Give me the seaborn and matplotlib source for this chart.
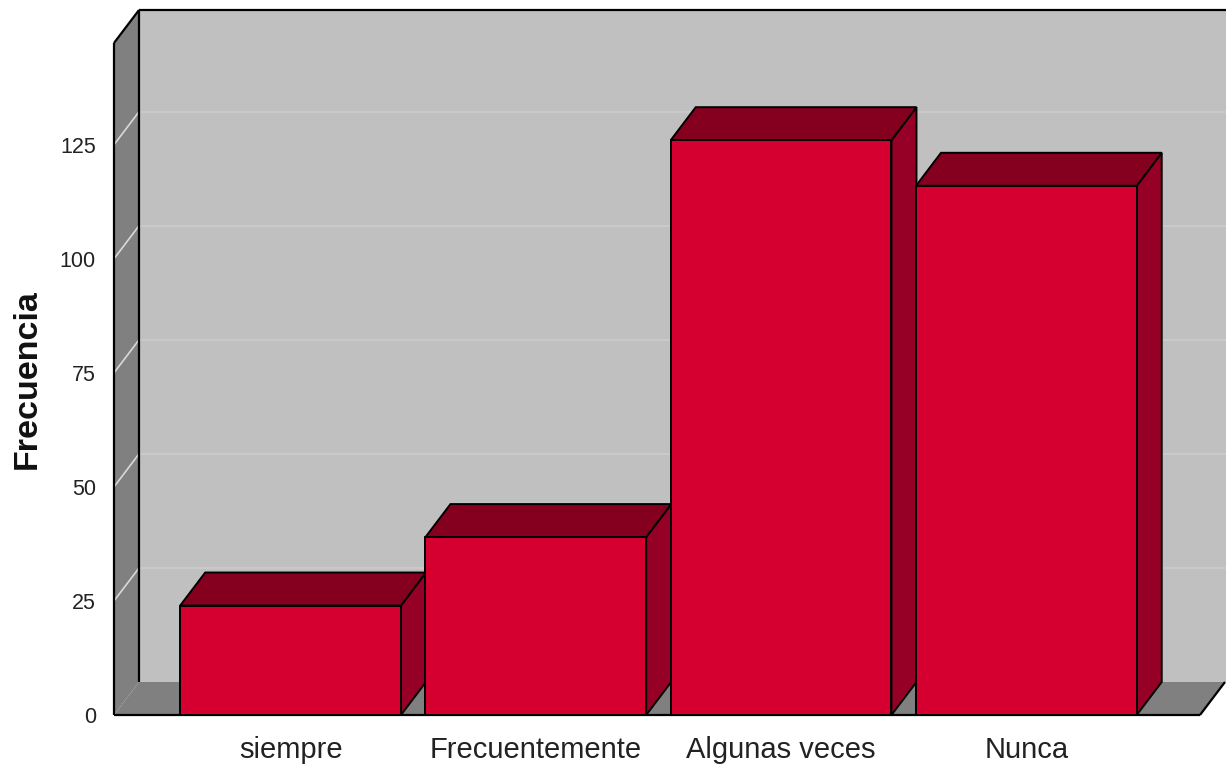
import matplotlib
matplotlib.use("Agg")
import matplotlib.pyplot as plt
from matplotlib.patches import Polygon
from matplotlib.lines import Line2D
from matplotlib.transforms import IdentityTransform
import seaborn as sns

# Data
categorias = ["siempre", "Frecuentemente", "Algunas veces", "Nunca"]
frecuencia = [24, 39, 126, 116]
marcas_y = [0, 25, 50, 75, 100, 125]

# Colours of the 3-D box and bars
ROJO_FRENTE = "#d50030"
ROJO_ARRIBA = "#85001f"
ROJO_LADO = "#960026"
GRIS_PARED = "#c0c0c0"
GRIS_OSCURO = "#808080"
GRIS_REJILLA = "#c9c9c9"
GRIS_DIAGONAL = "#d9d9d9"

sns.set_style("white")
plt.rcParams["font.family"] = ["Liberation Sans", "DejaVu Sans"]

W_PX, H_PX = 1226, 769
fig = plt.figure(figsize=(W_PX / 100, H_PX / 100), dpi=100)
ax = fig.add_axes([114 / W_PX, 54 / H_PX, 1086 / W_PX, 672 / H_PX])
ax.set_facecolor("none")

sns.barplot(x=categorias, y=frecuencia, color=ROJO_FRENTE, saturation=1,
            width=0.9, edgecolor="black", linewidth=1.4, ax=ax)

ax.set_xlim(-0.72, 3.708)
ax.set_ylim(0, 147.3)
ax.set_yticks(marcas_y)
ax.set_yticklabels([str(v) for v in marcas_y])
for s in ax.spines.values():
    s.set_visible(False)
ax.tick_params(axis="y", length=0, pad=13, labelsize=15.5, labelcolor="#222222")
ax.tick_params(axis="x", length=0, pad=15, labelsize=21, labelcolor="#222222")
ax.set_xlabel("")
ax.set_ylabel("Frecuencia", fontsize=24.5, fontweight="bold", color="#111111")
ax.yaxis.set_label_coords(-0.066, 0.5)

# Depth of the 3-D box, in pixels
DX, DY = 25, 33
T = ax.transData
ident = IdentityTransform()


def px(x, y):
    return tuple(T.transform((x, y)))


x_lo, x_hi = ax.get_xlim()
y_top = ax.get_ylim()[1]
X0, Y0 = px(x_lo, 0)
X1, _ = px(x_hi, 0)
_, YT = px(x_lo, y_top)
XR = W_PX + 20


def poly(pts, fc, z, ec="none", lw=0):
    ax.add_patch(Polygon(pts, closed=True, facecolor=fc, edgecolor=ec,
                         linewidth=lw, transform=ident, clip_on=False,
                         zorder=z, joinstyle="miter"))


def line(xs, ys, c, lw, z):
    ax.add_line(Line2D(xs, ys, color=c, linewidth=lw, transform=ident,
                       clip_on=False, zorder=z, solid_capstyle="butt"))


# Walls and floor
poly([(X0 + DX, Y0 + DY), (XR, Y0 + DY), (XR, YT + DY), (X0 + DX, YT + DY)], GRIS_PARED, 0.1)
poly([(X0, Y0), (X0, YT), (X0 + DX, YT + DY), (X0 + DX, Y0 + DY)], GRIS_OSCURO, 0.2)
poly([(X0, Y0), (X1, Y0), (X1 + DX, Y0 + DY), (X0 + DX, Y0 + DY)], GRIS_OSCURO, 0.2)

# Gridlines: diagonal across the side wall, then along the back wall
for v in marcas_y[1:]:
    _, yv = px(x_lo, v)
    line([X0, X0 + DX], [yv, yv + DY], GRIS_DIAGONAL, 1.2, 0.3)
    line([X0 + DX, XR], [yv + DY, yv + DY], GRIS_REJILLA, 1.6, 0.3)

# Box outline
line([X0, X0], [Y0, YT], "black", 1.6, 0.5)
line([X0, X0 + DX], [YT, YT + DY], "black", 1.6, 0.5)
line([X0 + DX, XR], [YT + DY, YT + DY], "black", 1.6, 0.5)
line([X0 + DX, X0 + DX], [Y0 + DY, YT + DY], "black", 1.6, 0.5)
line([X0, X1], [Y0, Y0], "black", 1.6, 0.5)
line([X1, X1 + DX], [Y0, Y0 + DY], "black", 1.6, 0.5)

# Top and side faces of each bar, stacked left to right
for i, bar in enumerate(ax.patches[:len(frecuencia)]):
    xa, xb = bar.get_x(), bar.get_x() + bar.get_width()
    h = bar.get_height()
    l, t = px(xa, h)
    r, b = px(xb, 0)
    zf = 2 + 2 * i
    poly([(r, b), (r, t), (r + DX, t + DY), (r + DX, b + DY)], ROJO_LADO, zf - 1, "black", 1.4)
    poly([(l, t), (r, t), (r + DX, t + DY), (l + DX, t + DY)], ROJO_ARRIBA, zf - 1, "black", 1.4)
    bar.set_zorder(zf)

fig.savefig("out.png", dpi=100)
